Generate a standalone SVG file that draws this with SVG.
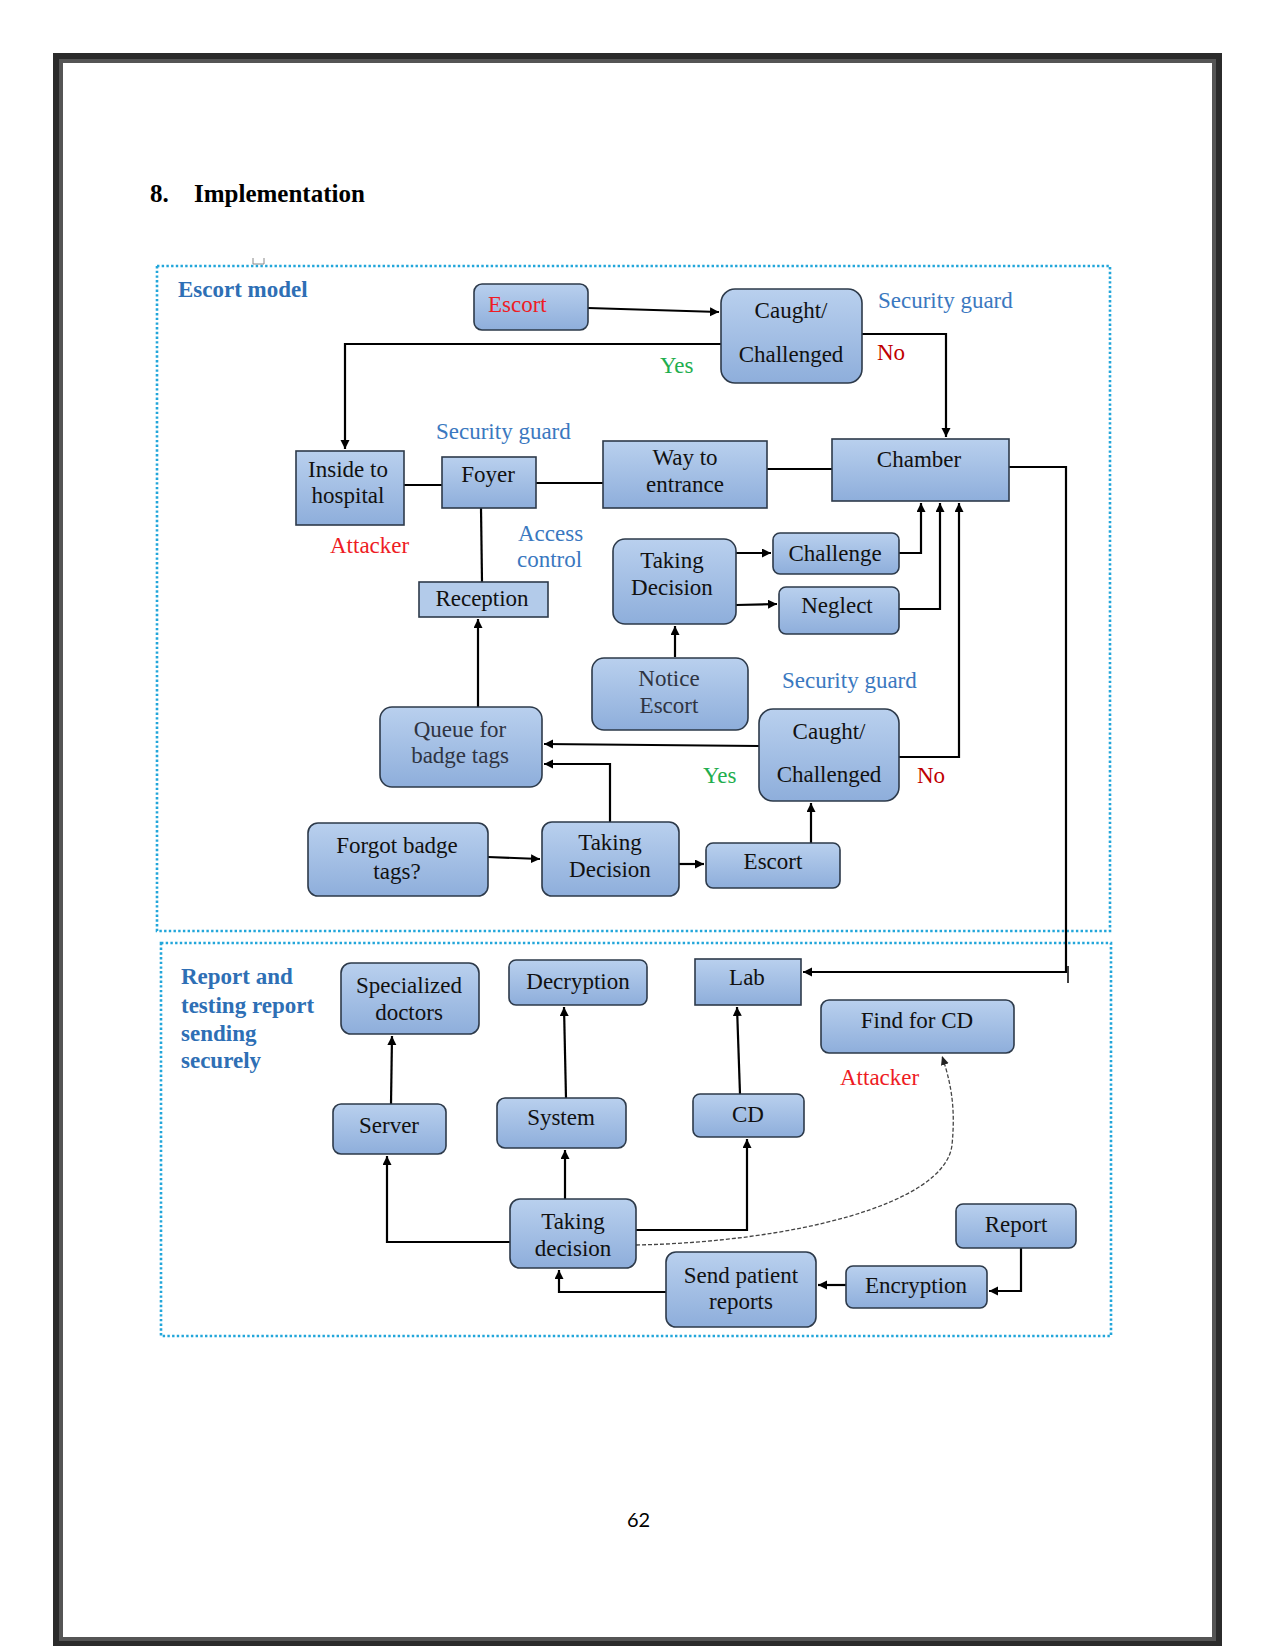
<svg xmlns="http://www.w3.org/2000/svg" width="1275" height="1650" viewBox="0 0 1275 1650">
<defs>
<linearGradient id="g" x1="0" y1="0" x2="0" y2="1">
<stop offset="0" stop-color="#b9d0ee"/>
<stop offset="1" stop-color="#8eaedb"/>
</linearGradient>
<marker id="a" markerWidth="10" markerHeight="10" refX="9" refY="4.5" orient="auto" markerUnits="userSpaceOnUse">
<path d="M0,0 L9,4.5 L0,9 z" fill="#000"/>
</marker>
<marker id="ad" markerWidth="10" markerHeight="10" refX="9" refY="4" orient="auto" markerUnits="userSpaceOnUse">
<path d="M0,0 L9,4 L0,8 z" fill="#222"/>
</marker>
<style>
.n{fill:url(#g);stroke:#2d3a4a;stroke-width:1.6}
.t{font-family:"Liberation Serif",serif;font-size:23px;fill:#111;text-anchor:middle}
.tg{font-family:"Liberation Serif",serif;font-size:23px;fill:#2f3442;text-anchor:middle}
.lb{font-family:"Liberation Serif",serif;font-size:23px;fill:#3a78c0}
.red{font-family:"Liberation Serif",serif;font-size:23px;fill:#ee1c24}
.dred{font-family:"Liberation Serif",serif;font-size:23px;fill:#c00000}
.grn{font-family:"Liberation Serif",serif;font-size:23px;fill:#1fae4f}
.hd{font-family:"Liberation Serif",serif;font-size:23px;font-weight:bold;fill:#2e6fb5}
.c{fill:none;stroke:#000;stroke-width:2.2}
.dot{fill:none;stroke:#22a6da;stroke-width:2.6;stroke-dasharray:2.4 2.3}
</style>
</defs>
<rect width="1275" height="1650" fill="#fff"/>
<rect x="56" y="56" width="1163" height="1587" fill="none" stroke="#2b2b2b" stroke-width="6"/>
<rect x="61" y="61" width="1153" height="1578" fill="none" stroke="#555" stroke-width="4"/>
<text x="150" y="202" font-family="Liberation Serif, serif" font-size="25" font-weight="bold" fill="#000">8.</text>
<text x="194" y="202" font-family="Liberation Serif, serif" font-size="25" font-weight="bold" fill="#000">Implementation</text>
<text x="627" y="1527" font-family="Lato, sans-serif" font-size="20" fill="#000">62</text>
<rect class="dot" x="157" y="266" width="953" height="665"/>
<rect class="dot" x="161" y="943" width="950" height="393"/>
<path d="M253,258 V264 H264 V258" fill="none" stroke="#888" stroke-width="1"/>
<text class="hd" x="178" y="297">Escort model</text>
<text class="hd" x="181" y="984" font-size="22">Report and</text>
<text class="hd" x="181" y="1013" font-size="22">testing report</text>
<text class="hd" x="181" y="1041" font-size="22">sending</text>
<text class="hd" x="181" y="1068" font-size="22">securely</text>
<text class="lb" x="878" y="308">Security guard</text>
<text class="lb" x="436" y="439">Security guard</text>
<text class="lb" x="782" y="688">Security guard</text>
<text class="lb" x="518" y="541">Access</text>
<text class="lb" x="517" y="567">control</text>
<text class="dred" x="877" y="360">No</text>
<text class="dred" x="917" y="783">No</text>
<text class="grn" x="660" y="373">Yes</text>
<text class="grn" x="703" y="783">Yes</text>
<text class="red" x="330" y="553">Attacker</text>
<text class="red" x="840" y="1085">Attacker</text>
<g id="connectors">
<path class="c" d="M588,308 L719,312" marker-end="url(#a)"/>
<path class="c" d="M721,344 H345 V449" marker-end="url(#a)"/>
<path class="c" d="M862,334 H946 V437" marker-end="url(#a)"/>
<path class="c" d="M404,485 H442"/>
<path class="c" d="M536,483 H603"/>
<path class="c" d="M767,469 H832"/>
<path class="c" d="M481,508 L482,582"/>
<path class="c" d="M1009,467 H1066 V972 H803" marker-end="url(#a)"/>
<path d="M1068,966 V983" stroke="#000" stroke-width="1.5"/>
<path class="c" d="M736,553 H771" marker-end="url(#a)"/>
<path class="c" d="M736,605 L777,604" marker-end="url(#a)"/>
<path class="c" d="M899,553 H921 V503" marker-end="url(#a)"/>
<path class="c" d="M899,609 H940 V503" marker-end="url(#a)"/>
<path class="c" d="M899,757 H959 V503" marker-end="url(#a)"/>
<path class="c" d="M675,657 V626" marker-end="url(#a)"/>
<path class="c" d="M478,707 V619" marker-end="url(#a)"/>
<path class="c" d="M759,746 L544,744" marker-end="url(#a)"/>
<path class="c" d="M610,822 V764 H544" marker-end="url(#a)"/>
<path class="c" d="M488,857 L540,859" marker-end="url(#a)"/>
<path class="c" d="M679,864 H704" marker-end="url(#a)"/>
<path class="c" d="M811,843 V803" marker-end="url(#a)"/>
<path class="c" d="M391,1104 L392,1036" marker-end="url(#a)"/>
<path class="c" d="M566,1098 L564,1007" marker-end="url(#a)"/>
<path class="c" d="M740,1094 L737,1007" marker-end="url(#a)"/>
<path class="c" d="M565,1199 V1150" marker-end="url(#a)"/>
<path class="c" d="M510,1242 H387 V1156" marker-end="url(#a)"/>
<path class="c" d="M636,1230 H747 V1139" marker-end="url(#a)"/>
<path d="M636,1245 C790,1242 945,1205 952,1145 C956,1105 950,1080 942,1056" fill="none" stroke="#444" stroke-width="1.3" stroke-dasharray="4 2" marker-end="url(#ad)"/>
<path class="c" d="M1021,1248 V1291 H989" marker-end="url(#a)"/>
<path class="c" d="M846,1285 H818" marker-end="url(#a)"/>
<path class="c" d="M666,1292 H559 V1270" marker-end="url(#a)"/>
</g>
<g id="escort1"><rect class="n" x="474" y="284" width="114" height="46" rx="8"/><text class="red" x="488" y="312">Escort</text></g>
<g id="caught1"><rect class="n" x="721" y="289" width="141" height="94" rx="14"/><text class="t" x="791" y="318">Caught/</text><text class="t" x="791" y="362">Challenged</text></g>
<g id="inside"><rect class="n" x="296" y="451" width="108" height="74"/><text class="t" x="348" y="477">Inside to</text><text class="t" x="348" y="503">hospital</text></g>
<g id="foyer"><rect class="n" x="442" y="457" width="94" height="51"/><text class="t" x="488" y="482">Foyer</text></g>
<g id="way"><rect class="n" x="603" y="441" width="164" height="67"/><text class="t" x="685" y="465">Way to</text><text class="t" x="685" y="492">entrance</text></g>
<g id="chamber"><rect class="n" x="832" y="439" width="177" height="62"/><text class="t" x="919" y="467">Chamber</text></g>
<g id="reception"><rect class="n" x="419" y="582" width="129" height="35" style="fill:#b3cbea"/><text class="t" x="482" y="606">Reception</text></g>
<g id="td1"><rect class="n" x="613" y="539" width="123" height="85" rx="12"/><text class="t" x="672" y="568">Taking</text><text class="t" x="672" y="595">Decision</text></g>
<g id="challenge"><rect class="n" x="773" y="533" width="126" height="41" rx="7"/><text class="t" x="835" y="561">Challenge</text></g>
<g id="neglect"><rect class="n" x="779" y="587" width="120" height="47" rx="7"/><text class="t" x="837" y="613">Neglect</text></g>
<g id="notice"><rect class="n" x="592" y="658" width="156" height="72" rx="12"/><text class="tg" x="669" y="686">Notice</text><text class="tg" x="669" y="713">Escort</text></g>
<g id="queue"><rect class="n" x="380" y="707" width="162" height="80" rx="12"/><text class="tg" x="460" y="737">Queue for</text><text class="tg" x="460" y="763">badge tags</text></g>
<g id="caught2"><rect class="n" x="759" y="709" width="140" height="92" rx="14"/><text class="t" x="829" y="739">Caught/</text><text class="t" x="829" y="782">Challenged</text></g>
<g id="forgot"><rect class="n" x="308" y="823" width="180" height="73" rx="10"/><text class="t" x="397" y="853">Forgot badge</text><text class="t" x="397" y="879">tags?</text></g>
<g id="td2"><rect class="n" x="542" y="822" width="137" height="74" rx="10"/><text class="t" x="610" y="850">Taking</text><text class="t" x="610" y="877">Decision</text></g>
<g id="escort2"><rect class="n" x="706" y="843" width="134" height="45" rx="7"/><text class="t" x="773" y="869">Escort</text></g>
<g id="specialized"><rect class="n" x="341" y="963" width="138" height="71" rx="10"/><text class="t" x="409" y="993">Specialized</text><text class="t" x="409" y="1020">doctors</text></g>
<g id="decryption"><rect class="n" x="509" y="960" width="138" height="45" rx="7"/><text class="t" x="578" y="989">Decryption</text></g>
<g id="lab"><rect class="n" x="695" y="959" width="106" height="46"/><text class="t" x="747" y="985">Lab</text></g>
<g id="find"><rect class="n" x="821" y="1000" width="193" height="53" rx="8"/><text class="t" x="917" y="1028">Find for CD</text></g>
<g id="server"><rect class="n" x="333" y="1104" width="113" height="50" rx="8"/><text class="t" x="389" y="1133">Server</text></g>
<g id="system"><rect class="n" x="497" y="1098" width="129" height="50" rx="8"/><text class="t" x="561" y="1125">System</text></g>
<g id="cd"><rect class="n" x="693" y="1094" width="111" height="43" rx="7"/><text class="t" x="748" y="1122">CD</text></g>
<g id="td3"><rect class="n" x="510" y="1199" width="126" height="69" rx="10"/><text class="t" x="573" y="1229">Taking</text><text class="t" x="573" y="1256">decision</text></g>
<g id="report"><rect class="n" x="956" y="1204" width="120" height="44" rx="7"/><text class="t" x="1016" y="1232">Report</text></g>
<g id="encryption"><rect class="n" x="846" y="1266" width="141" height="42" rx="7"/><text class="t" x="916" y="1293">Encryption</text></g>
<g id="send"><rect class="n" x="666" y="1252" width="150" height="75" rx="10"/><text class="t" x="741" y="1283">Send patient</text><text class="t" x="741" y="1309">reports</text></g>
</svg>
